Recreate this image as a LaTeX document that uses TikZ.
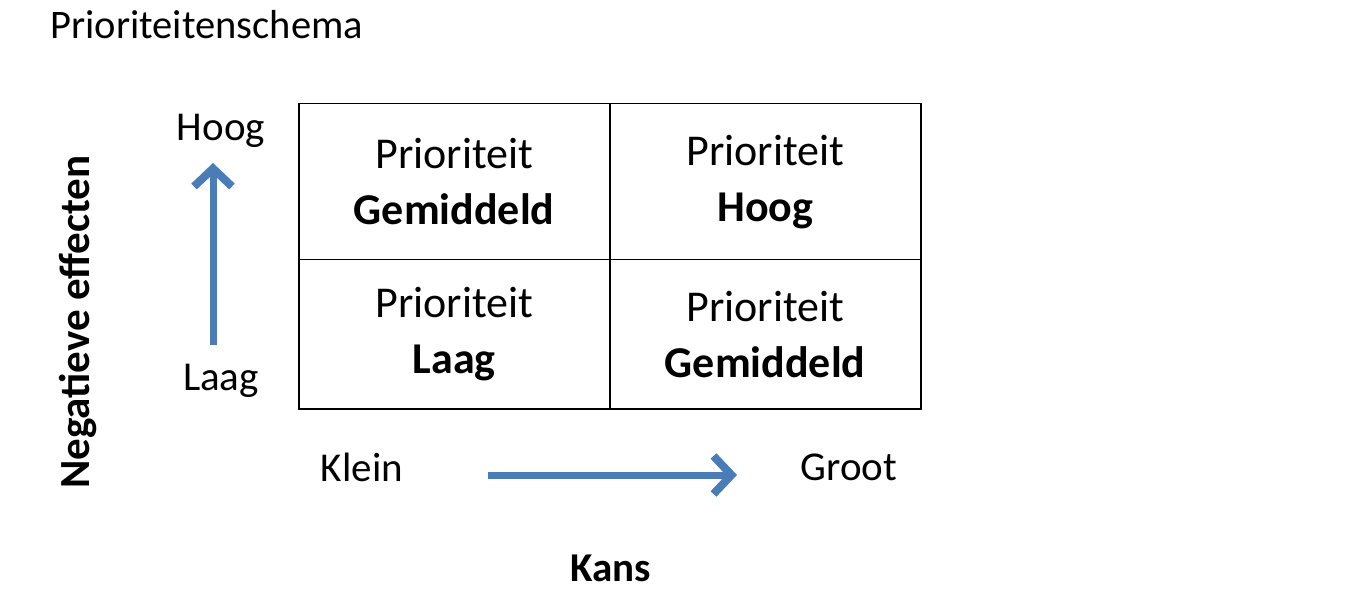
\documentclass[tikz,border=0pt]{standalone}
\usepackage{fontspec}
\setmainfont{Carlito}
\usetikzlibrary{arrows.meta}
\definecolor{arr}{RGB}{74,124,184}
\begin{document}
\begin{tikzpicture}[x=1pt,y=-1pt,
  cell/.style={draw,line width=1.5pt,minimum width=311pt,inner sep=0pt,align=center,font=\fontsize{44}{56}\selectfont},
  lbl/.style={font=\fontsize{41}{44}\selectfont},
  bigarr/.style={arr,line width=7pt,-{Straight Barb[length=18pt,width=38pt,line width=8pt]}}]
\useasboundingbox (0,0) rectangle (1353,604);
\node[anchor=base west,font=\fontsize{40.5}{44}\selectfont] (title) at (47,39) {Prioriteitenschema};
\node[cell,anchor=north west,minimum height=156pt] (tl) at (298,103) {Prioriteit\\\textbf{Gemiddeld}};
\node[cell,anchor=north west,minimum height=156pt] (tr) at (609,103) {Prioriteit\\\textbf{Hoog}};
\node[cell,anchor=north west,minimum height=149pt] (bl) at (298,259) {Prioriteit\\\textbf{Laag}};
\node[cell,anchor=north west,minimum height=149pt] (br) at (609,259) {Prioriteit\\\textbf{Gemiddeld}};
\node[lbl] (hoog) at (221,131) {Hoog};
\node[lbl] (laag) at (221,381) {Laag};
\node[lbl] (klein) at (362,467) {Klein};
\node[lbl] (groot) at (849,467) {Groot};
\node[font=\fontsize{43}{46}\selectfont\bfseries,rotate=90] (neg) at (78,322) {Negatieve effecten};
\node[font=\fontsize{41}{44}\selectfont\bfseries] (kans) at (611,568) {Kans};
\coordinate (v1) at (213,345);
\coordinate (v2) at (213,163);
\coordinate (h1) at (488,475);
\coordinate (h2) at (737,475);
\draw[bigarr] (v1) -- (v2);
\draw[bigarr] (h1) -- (h2);
\end{tikzpicture}
\end{document}
